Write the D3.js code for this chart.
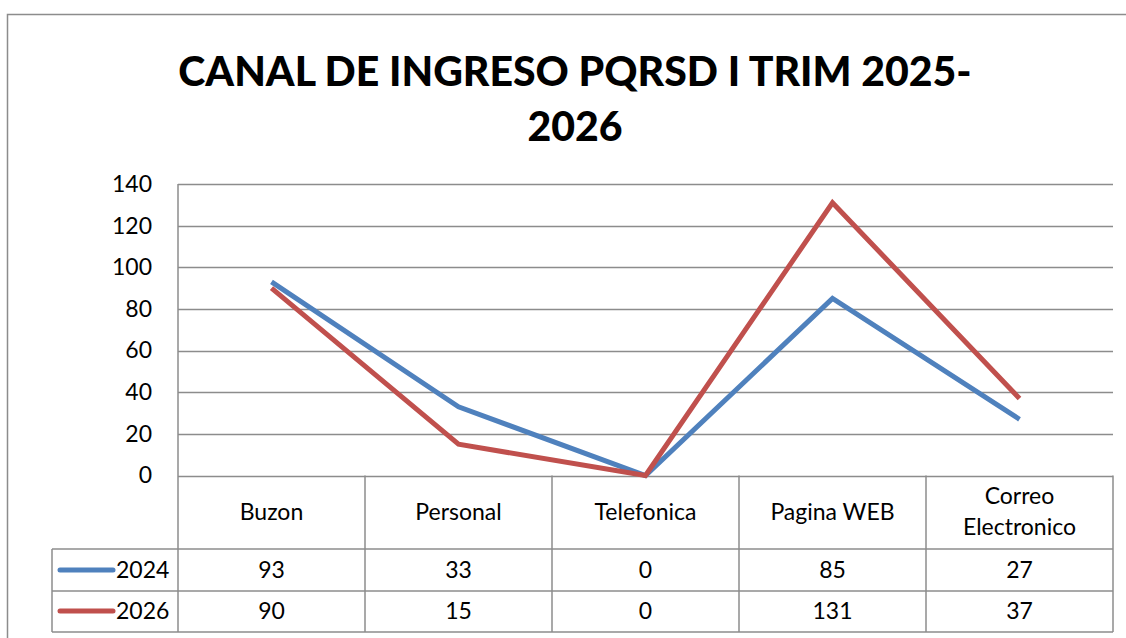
<!DOCTYPE html>
<meta charset="utf-8">
<script src="https://d3js.org/d3.v7.min.js"></script>
<style>
  body { margin: 0; background: #fff; }
  text { font-family: Lato, "Open Sans", sans-serif; fill: #000; }
</style>
<svg id="chart" width="1126" height="638"></svg>
<script>
// data
const categories = ["Buzon", "Personal", "Telefonica", "Pagina WEB", "Correo Electronico"];
const seriesNames = ["2024", "2026"];
const values2024 = [93, 33, 0, 85, 27];
const values2026 = [90, 15, 0, 131, 37];
const yTicks = [0, 20, 40, 60, 80, 100, 120, 140];
const colors = ["#4F81BD", "#C0504D"];

const series = [
  { name: seriesNames[0], values: values2024, color: colors[0] },
  { name: seriesNames[1], values: values2026, color: colors[1] }
];

const svg = d3.select("#chart");
const grid = "#8c8c8c";
const fs = "23px";

// outer frame (runs past the window on right and bottom)
svg.append("rect")
  .attr("x", 7.5).attr("y", 14.5)
  .attr("width", 1130).attr("height", 640)
  .attr("fill", "none").attr("stroke", grid).attr("stroke-width", 1.5);

// title
const title = svg.append("text")
  .attr("text-anchor", "middle")
  .style("font-weight", "900").style("font-size", "41px");
title.append("tspan").attr("x", 575).attr("y", 86).text("CANAL DE INGRESO PQRSD I TRIM 2025-");
title.append("tspan").attr("x", 575).attr("y", 141).text("2026");

// scales
const plotLeft = 178, plotRight = 1113, plotTop = 184, zero = 475.5;
const x = d3.scaleBand().domain(categories).range([plotLeft, plotRight]);
const y = d3.scaleLinear().domain([0, 140]).range([zero, plotTop]);

// gridlines
svg.append("g").selectAll("line").data(yTicks).join("line")
  .attr("x1", plotLeft).attr("x2", plotRight)
  .attr("y1", d => Math.round(y(d)) + 0.5).attr("y2", d => Math.round(y(d)) + 0.5)
  .attr("stroke", grid).attr("stroke-width", 1.5);

// y axis labels
const yAxis = svg.append("g")
  .attr("transform", `translate(${plotLeft},0)`)
  .call(d3.axisLeft(y).tickValues(yTicks).tickSize(0).tickPadding(26));
yAxis.select(".domain").remove();
yAxis.selectAll("text")
  .style("font-family", "Lato, 'Open Sans', sans-serif")
  .style("font-size", fs).attr("fill", "#000");

// data table
const rowTop = zero, headBottom = 549, row1 = 591, row2 = 632, legLeft = 52;
const tbl = svg.append("g").attr("stroke", grid).attr("stroke-width", 1.5);
tbl.append("line").attr("x1", plotLeft).attr("x2", plotLeft).attr("y1", plotTop).attr("y2", row2);
tbl.selectAll(".col").data(categories).join("line")
  .attr("x1", d => x(d) + x.bandwidth()).attr("x2", d => x(d) + x.bandwidth())
  .attr("y1", rowTop).attr("y2", row2);
[headBottom, row1, row2].forEach(yy => {
  tbl.append("line").attr("x1", legLeft).attr("x2", plotRight).attr("y1", yy).attr("y2", yy);
});
tbl.append("line").attr("x1", legLeft).attr("x2", legLeft).attr("y1", headBottom).attr("y2", row2);

// category header labels
svg.append("g").selectAll("text").data(categories).join("text")
  .attr("text-anchor", "middle")
  .style("font-size", fs)
  .each(function(d) {
    const words = d.split(" ");
    const t = d3.select(this);
    const cx = x(d) + x.bandwidth() / 2;
    if (d === "Correo Electronico") {
      t.append("tspan").attr("x", cx).attr("y", 504).text(words[0]);
      t.append("tspan").attr("x", cx).attr("y", 535).text(words[1]);
    } else {
      t.append("tspan").attr("x", cx).attr("y", 520).text(d);
    }
  });

// value rows + legend keys
const rowsY = [570, 611];
series.forEach((s, i) => {
  svg.append("g").selectAll("text").data(s.values).join("text")
    .attr("x", (d, j) => x(categories[j]) + x.bandwidth() / 2)
    .attr("y", rowsY[i] + 8)
    .attr("text-anchor", "middle")
    .style("font-size", fs)
    .text(d => d);
  svg.append("line")
    .attr("x1", 60).attr("x2", 113).attr("y1", rowsY[i]).attr("y2", rowsY[i])
    .attr("stroke", s.color).attr("stroke-width", 5).attr("stroke-linecap", "round");
  svg.append("text")
    .attr("x", 116).attr("y", rowsY[i] + 8)
    .style("font-size", fs).text(s.name);
});

// lines
const line = d3.line()
  .x((d, j) => x(categories[j]) + x.bandwidth() / 2)
  .y(d => y(d));
svg.append("g").selectAll("path").data(series).join("path")
  .attr("d", d => line(d.values))
  .attr("fill", "none")
  .attr("stroke", d => d.color)
  .attr("stroke-width", 5)
  .attr("stroke-linejoin", "miter");
</script>
